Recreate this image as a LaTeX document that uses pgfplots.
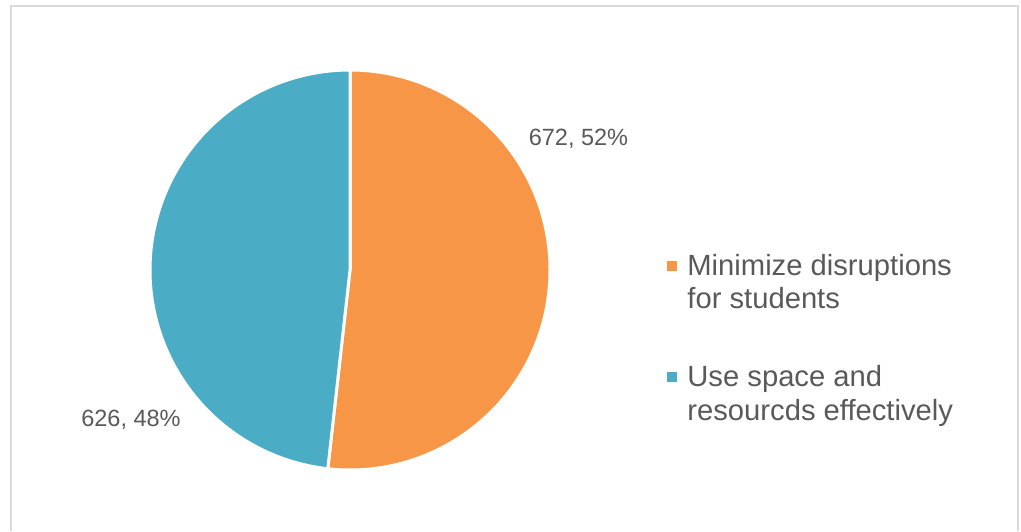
\documentclass[border=0pt]{standalone}
\usepackage{pgfplots}
\pgfplotsset{compat=1.18}
\usepackage{fontspec}
\setmainfont{Liberation Sans}
\definecolor{orangeS}{HTML}{F79646}
\definecolor{blueS}{HTML}{4BACC6}
\definecolor{txt}{HTML}{595959}
\definecolor{frame}{HTML}{D9D9D9}
\begin{document}
\begin{tikzpicture}
\def\va{672}
\def\vb{626}
\pgfmathsetmacro\angA{\va/(\va+\vb)*360}
\begin{axis}[
  name=ax,
  x=0.5pt, y=0.5pt,
  xmin=-350, xmax=671, ymin=-261, ymax=270,
  hide axis, clip=false,
]
% frame
\draw[frame, line width=1pt] (axis cs:-339.5,-261) -- (axis cs:-339.5,263.5) -- (axis cs:667.5,263.5) -- (axis cs:667.5,-261);
% pie slices
\addplot[fill=orangeS, draw=white, line width=1.5pt, domain=0:\angA, samples=200, variable=\t]
  ({200*sin(t)},{200*cos(t)}) -- (axis cs:0,0) -- cycle;
\addplot[fill=blueS, draw=white, line width=1.5pt, domain=\angA:360, samples=200, variable=\t]
  ({200*sin(t)},{200*cos(t)}) -- (axis cs:0,0) -- cycle;
% data labels
\node[anchor=base, text=txt, font=\fontsize{11.75}{14}\selectfont, inner sep=0pt] at (axis cs:228.5,125) {672, 52\%};
\node[anchor=base, text=txt, font=\fontsize{11.75}{14}\selectfont, inner sep=0pt] at (axis cs:-219,-156) {626, 48\%};
% legend markers
\addplot[only marks, mark=square*, mark size=2.25pt, color=orangeS, mark options={draw=none, fill=orangeS}] coordinates {(322,4.5)};
\addplot[only marks, mark=square*, mark size=2.25pt, color=blueS, mark options={draw=none, fill=blueS}] coordinates {(322,-107)};
% legend text
\node[anchor=base west, text=txt, font=\fontsize{14.6}{16.5}\selectfont, inner sep=0pt] at (axis cs:337,-5) {Minimize disruptions};
\node[anchor=base west, text=txt, font=\fontsize{14.6}{16.5}\selectfont, inner sep=0pt] at (axis cs:337,-38) {for students};
\node[anchor=base west, text=txt, font=\fontsize{14.6}{16.5}\selectfont, inner sep=0pt] at (axis cs:337,-116.7) {Use space and};
\node[anchor=base west, text=txt, font=\fontsize{14.6}{16.5}\selectfont, inner sep=0pt] at (axis cs:337,-150) {resourcds effectively};
\end{axis}
\pgfresetboundingbox
\path[use as bounding box] (ax.south west) rectangle (ax.north east);
\end{tikzpicture}
\end{document}
